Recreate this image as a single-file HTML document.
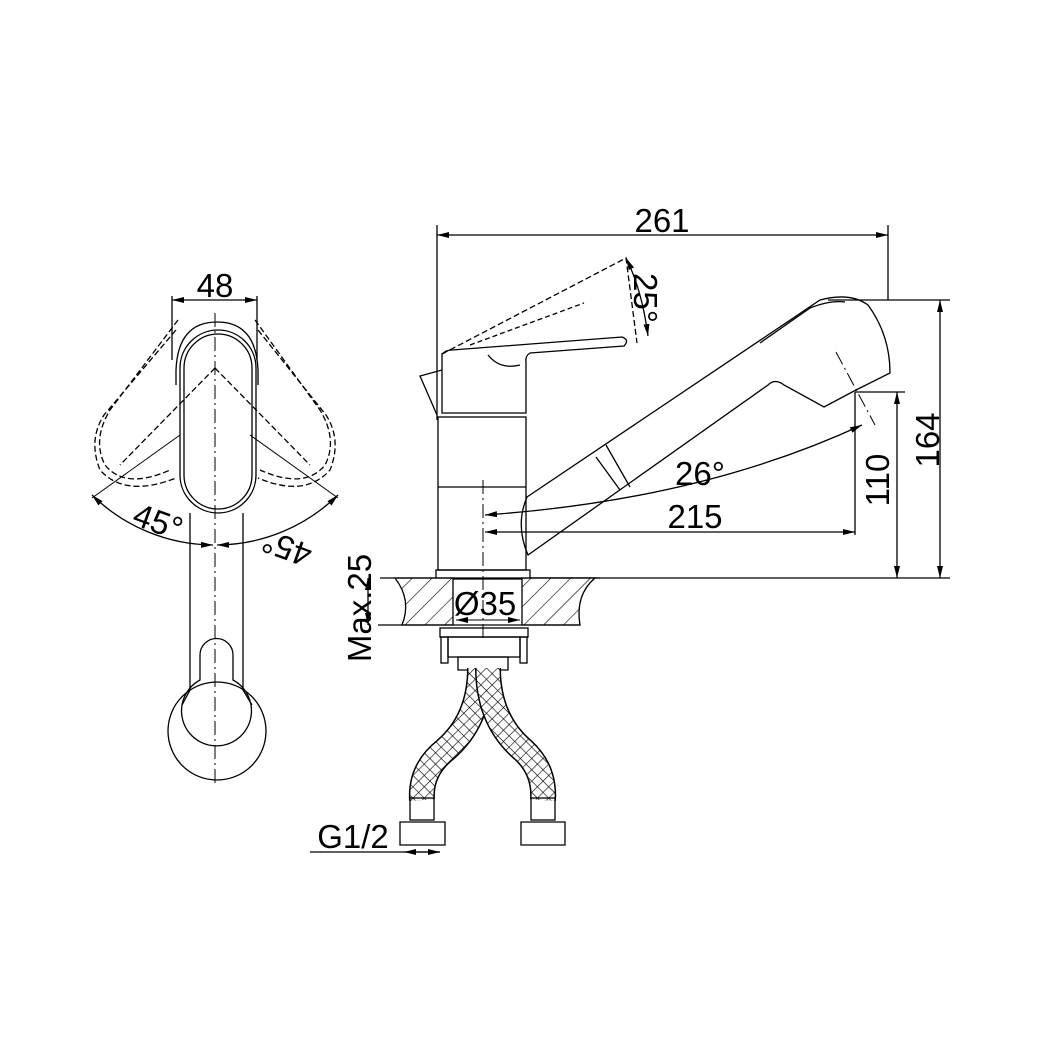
<!DOCTYPE html>
<html><head><meta charset="utf-8"><style>html,body{margin:0;padding:0;background:#fff}svg{display:block}</style></head>
<body>
<svg width="1040" height="1040" viewBox="0 0 1040 1040" xmlns="http://www.w3.org/2000/svg" font-family="Liberation Sans, sans-serif">
<defs>
<pattern id="xh" width="8" height="8" patternUnits="userSpaceOnUse" patternTransform="rotate(45)">
<rect width="8" height="8" fill="#fff"/><path d="M0 0H8M0 0V8" stroke="#000" stroke-width="1.2"/></pattern>
<pattern id="hatch" width="14" height="14" patternUnits="userSpaceOnUse" patternTransform="rotate(45)">
<rect width="14" height="14" fill="#fff"/><path d="M0 0V14" stroke="#000" stroke-width="1.2"/></pattern>
<marker id="a" markerWidth="12" markerHeight="6" refX="12" refY="3" orient="auto-start-reverse" markerUnits="userSpaceOnUse"><path d="M0 0L12 3L0 6z"/></marker>
</defs>
<g fill="none" stroke="#000" stroke-width="1.3">
<!-- LEFT VIEW -->
<line x1="172" y1="300" x2="257" y2="300" marker-start="url(#a)" marker-end="url(#a)"/>
<line x1="172" y1="296" x2="172" y2="360"/><line x1="257" y1="296" x2="257" y2="360"/>
<line x1="215" y1="313" x2="215" y2="785" stroke-dasharray="14 4 2 4" stroke-width="1"/>
<path d="M176 385 L176 370 Q178 322 217 322 Q256 322 258 370 L258 385"/>
<rect x="180" y="330" width="76" height="183" rx="38"/>
<rect x="184" y="334" width="68" height="175" rx="34"/>
<path d="M190 513 V690 L182 705 M243 513 V690 L252 705"/>
<circle cx="217" cy="731" r="49"/>
<path d="M200 680 V655 A16 16 0 0 1 233 655 V680 A35 35 0 1 1 200 680Z"/>
<g stroke-dasharray="6 3">
<path d="M178 320 L110 410 Q92 440 105 465 Q125 490 170 470"/>
<path d="M176 330 L104 415 Q88 440 100 470 Q125 498 176 478"/>
<path d="M255 320 L320 410 Q338 440 325 465 Q305 490 260 470"/>
<path d="M258 330 L326 415 Q342 440 330 470 Q305 498 258 478"/>
<path d="M215 368 L120 465 M215 368 L310 465"/>
</g>
<path d="M180 435 L92 498 M250 435 L338 498" stroke-width="1"/>
<path d="M92 495 A175 175 0 0 0 213 545" marker-start="url(#a)" marker-end="url(#a)"/>
<path d="M338 495 A175 175 0 0 1 217 545" marker-start="url(#a)" marker-end="url(#a)"/>
<!-- RIGHT VIEW dims -->
<line x1="437" y1="235" x2="888" y2="235" marker-start="url(#a)" marker-end="url(#a)"/>
<line x1="437" y1="225" x2="437" y2="420"/><line x1="888" y1="225" x2="888" y2="300"/>
<line x1="940" y1="300" x2="940" y2="578" marker-start="url(#a)" marker-end="url(#a)"/>
<line x1="828" y1="300" x2="950" y2="300"/><line x1="530" y1="578" x2="950" y2="578"/>
<line x1="897" y1="392" x2="897" y2="578" marker-start="url(#a)" marker-end="url(#a)"/>
<line x1="855" y1="392" x2="905" y2="392"/>
<line x1="485" y1="532" x2="855" y2="532" marker-start="url(#a)" marker-end="url(#a)"/>
<line x1="855" y1="392" x2="855" y2="535"/>
<path d="M485 515 Q700 500 862 425" marker-start="url(#a)" marker-end="url(#a)"/>
<line x1="836" y1="352" x2="875" y2="425" stroke-dasharray="14 4 2 4" stroke-width="1"/>
<line x1="483" y1="480" x2="483" y2="640" stroke-dasharray="14 4 2 4" stroke-width="1"/>
<!-- faucet body -->
<rect x="438" y="417" width="88" height="153"/>
<line x1="438" y1="487" x2="526" y2="487"/>
<rect x="436" y="570" width="94" height="9"/>
<path d="M442 413 V354 Q446 350 452 350 L622 337 Q630 340 624 346 L530 353 Q525 356 526 362 V413 Z"/>
<path d="M488 355 Q500 370 520 365"/>
<path d="M442 370 L420 376 L437 415"/>
<path d="M442 354 L626 258 L637 343" stroke-dasharray="6 3"/>
<path d="M470 345 L584 303" stroke-dasharray="5 3"/>
<path d="M626 258 Q642 290 648 336" marker-start="url(#a)" marker-end="url(#a)"/>
<path d="M527 497 L820 300 Q850 292 868 305 Q890 335 890 373 L856 390 L824 407 L784 385 Q775 378 768 385 L528 555 Q515 525 527 497Z"/>
<path d="M760 343 L810 308 Q830 300 845 302"/>
<path d="M596 457 L620 490 M606 445 L630 487"/>
<!-- countertop -->
<path d="M395 578 H453 V625 H402 Q412 600 395 578Z" fill="url(#hatch)"/>
<path d="M522 578 H595 Q575 595 580 625 H522Z" fill="url(#hatch)"/>
<line x1="380" y1="578" x2="600" y2="578"/>
<line x1="378" y1="625" x2="580" y2="625"/>
<line x1="368" y1="578" x2="368" y2="625" marker-start="url(#a)" marker-end="url(#a)"/>
<line x1="456" y1="620" x2="520" y2="620" marker-start="url(#a)" marker-end="url(#a)" stroke-width="1"/>
<!-- under -->
<rect x="440" y="628" width="88" height="9"/>
<rect x="448" y="637" width="72" height="20"/>
<rect x="441" y="637" width="7" height="26"/><rect x="520" y="637" width="7" height="26"/>
<path d="M458 657 H508 V670 H458Z"/>
<path d="M480 668 Q480 720 445 750 Q420 770 422 800" stroke="#000" stroke-width="26"/>
<path d="M480 668 Q480 720 445 750 Q420 770 422 800" stroke="url(#xh)" stroke-width="23"/>
<path d="M488 668 Q488 720 523 750 Q545 770 543 800" stroke="#000" stroke-width="26"/>
<path d="M488 668 Q488 720 523 750 Q545 770 543 800" stroke="url(#xh)" stroke-width="23"/>
<rect x="410" y="798" width="24" height="22"/><rect x="531" y="798" width="24" height="22"/>
<path d="M400 822 H445 V845 H400Z M521 822 H565 V845 H521Z"/>
<line x1="310" y1="852" x2="440" y2="852"/>
<line x1="404" y1="852" x2="440" y2="852" marker-start="url(#a)" marker-end="url(#a)"/>
</g>
<g font-size="33" fill="#000" text-anchor="middle">
<text x="215" y="297">48</text>
<text transform="translate(158 522) rotate(20)" x="0" y="11">45°</text>
<text transform="translate(287 548) rotate(200)" x="0" y="11">45°</text>
<text x="662" y="232">261</text>
<text transform="translate(645 298) rotate(90)" x="0" y="11">25°</text>
<text x="700" y="485">26°</text>
<text x="695" y="528">215</text>
<text transform="translate(878 480) rotate(-90)" x="0" y="11">110</text>
<text transform="translate(928 440) rotate(-90)" x="0" y="11">164</text>
<text x="485" y="615">Ø35</text>
<text transform="translate(360 608) rotate(-90)" x="0" y="11">Max.25</text>
<text x="353" y="848">G1/2</text>
</g>
</svg>
</body></html>
